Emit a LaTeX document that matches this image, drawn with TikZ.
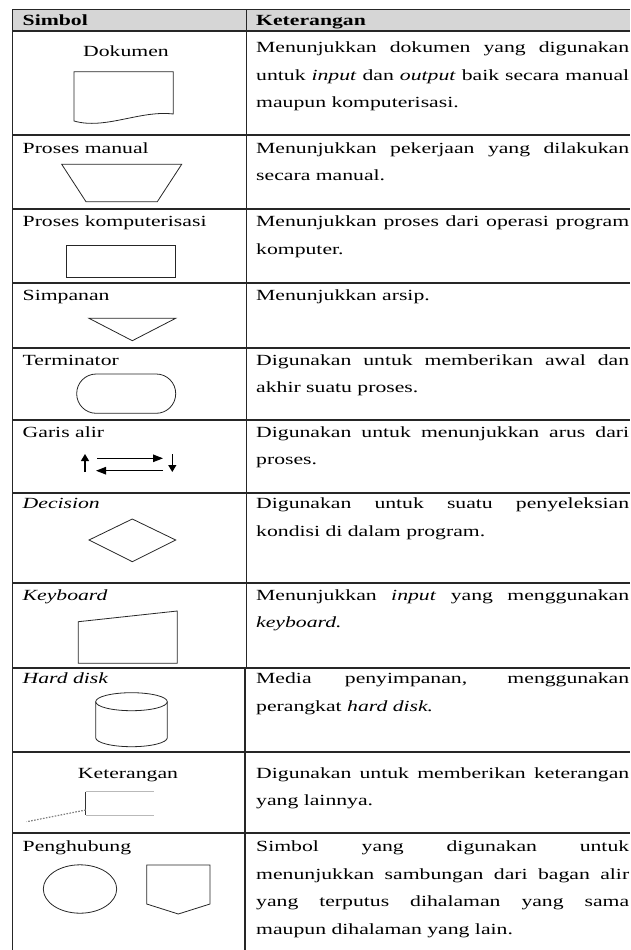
\documentclass[tikz,border=0pt]{standalone}
\usepackage{fontspec}
\setmainfont{Liberation Serif}[FakeStretch=1.4]
\usetikzlibrary{arrows.meta}
\begin{document}
\begin{tikzpicture}[x=1pt,y=-1pt,
  grid/.style={line width=1.3pt, black!85},
  sym/.style={line width=0.8pt, black!85},
  lbl/.style={anchor=base west, inner sep=0pt, font=\fontsize{15.5}{27.7}\selectfont},
  clbl/.style={anchor=base, inner sep=0pt, font=\fontsize{15.5}{27.7}\selectfont},
  hdr/.style={anchor=base west, inner sep=0pt, font=\fontsize{15.5}{27.7}\selectfont\bfseries},
  desc/.style={anchor=base west, inner sep=0pt, text width=373pt, align=justify, font=\fontsize{15.5}{27.7}\selectfont},
  flowarrow/.style={line width=1.2pt, -{Triangle[length=10pt,width=7.5pt]}},
  vflowarrow/.style={line width=1.2pt, -{Triangle[length=7pt,width=8pt]}}
]
\useasboundingbox (0,0) rectangle (630,950);
% header fill
\fill[black!16] (12.5,9.5) rectangle (630,31);
% grid
\draw[grid] (12.5,9.5) -- (630,9.5);
\foreach \yy in {31,135,209,283,348,420,493,583,668,752,833}
  \draw[grid] (12.5,\yy) -- (630,\yy);
\draw[grid] (12.5,9.5) -- (12.5,950);
\draw[grid] (246.5,9.5) -- (246.5,668);
\draw[grid] (245,668) -- (245,950);

% header texts
\node[hdr] (hsim) at (22.5,26) {Simbol};
\node[hdr] (hket) at (256,26) {Keterangan};

% left labels
\node[clbl] (l1) at (126,56.5) {Dokumen};
\node[lbl] (l2) at (22.5,153) {Proses manual};
\node[lbl] (l3) at (22.5,226.5) {Proses komputerisasi};
\node[lbl] (l4) at (22.5,300) {Simpanan};
\node[lbl] (l5) at (22.5,365) {Terminator};
\node[lbl] (l6) at (22.5,437) {Garis alir};
\node[lbl] (l7) at (22.5,508.5) {\textit{Decision}};
\node[lbl] (l8) at (22.5,600) {\textit{Keyboard}};
\node[lbl] (l9) at (22.5,683.5) {\textit{Hard disk}};
\node[clbl] (l10) at (128,778) {Keterangan};
\node[lbl] (l11) at (22.5,851.5) {Penghubung};

% descriptions
\node[desc] (d1) at (256,52.5) {Menunjukkan dokumen yang digunakan\linebreak untuk \textit{input} dan \textit{output} baik secara manual\linebreak maupun komputerisasi.};
\node[desc] (d2) at (256,153) {Menunjukkan pekerjaan yang dilakukan\linebreak secara manual.};
\node[desc] (d3) at (256,226.5) {Menunjukkan proses dari operasi program\linebreak komputer.};
\node[desc] (d4) at (256,300) {Menunjukkan arsip.};
\node[desc] (d5) at (256,365) {Digunakan untuk memberikan awal dan\linebreak akhir suatu proses.};
\node[desc] (d6) at (256,437) {Digunakan untuk menunjukkan arus dari\linebreak proses.};
\node[desc] (d7) at (256,508.5) {Digunakan untuk suatu penyeleksian\linebreak kondisi di dalam program.};
\node[desc] (d8) at (256,600) {Menunjukkan \textit{input} yang menggunakan\linebreak \textit{keyboard.}};
\node[desc] (d9) at (256,683.5) {Media penyimpanan, menggunakan\linebreak perangkat \textit{hard disk.}};
\node[desc] (d10) at (256,778) {Digunakan untuk memberikan keterangan\linebreak yang lainnya.};
\node[desc] (d11) at (256,851.5) {Simbol yang digunakan untuk\linebreak menunjukkan sambungan dari bagan alir\linebreak yang terputus dihalaman yang sama\linebreak maupun dihalaman yang lain.};

% Dokumen symbol
\draw[sym] (74,121) -- (74,71.7) -- (173.3,71.7) -- (173.3,114)
  .. controls (140,110) and (105,130) .. cycle;
% Proses manual
\draw[sym] (61.7,164.3) -- (181.7,164.3) -- (157.3,201.7) -- (86,201.7) -- cycle;
% Proses komputerisasi
\draw[sym] (66,245) rectangle (175.7,277.3);
% Simpanan
\draw[sym] (89,318.3) -- (175.7,318.3) -- (132.3,340.7) -- cycle;
% Terminator
\draw[sym, rounded corners=19.5pt] (76.7,374) rectangle (175.7,413.3);
% Garis alir
\coordinate (ua1) at (85,472);
\coordinate (ua2) at (85,454);
\coordinate (ra1) at (97,458.3);
\coordinate (ra2) at (163,458.3);
\coordinate (la1) at (163,470.7);
\coordinate (la2) at (96,470.7);
\coordinate (da1) at (172.3,454);
\coordinate (da2) at (172.3,472);
\draw[vflowarrow] (ua1) -- (ua2);
\draw[flowarrow] (ra1) -- (ra2);
\draw[flowarrow] (la1) -- (la2);
\draw[vflowarrow] (da1) -- (da2);
% Decision
\draw[sym] (89,540) -- (132.3,519) -- (175.7,540) -- (132.3,561.7) -- cycle;
% Keyboard
\draw[sym] (78.3,621.7) -- (177.3,611) -- (177.3,663.3) -- (78.3,663.3) -- cycle;
% Hard disk
\draw[sym] (131.5,701.7) ellipse [x radius=35.8pt, y radius=9pt];
\draw[sym] (95.7,701.7) -- (95.7,737.7) arc[start angle=180, end angle=360, x radius=35.8pt, y radius=9pt] -- (167.3,701.7);
% Keterangan (annotation)
\draw[gray!55, line width=1pt] (85.7,791.7) -- (154,791.7);
\draw[gray!55, line width=1pt] (85.7,815) -- (154,815);
\draw[black!80, line width=1pt] (85.7,791.7) -- (85.7,815);
\draw[gray, line width=1.2pt, dash pattern=on 1.6pt off 1.4pt] (85.7,810) -- (26.7,821.7);
% Penghubung
\draw[sym] (80,889) ellipse [x radius=36.7pt, y radius=24.2pt];
\draw[sym] (146.7,865) -- (210,865) -- (210,904) -- (178.3,914) -- (146.7,904) -- cycle;
\end{tikzpicture}
\end{document}
